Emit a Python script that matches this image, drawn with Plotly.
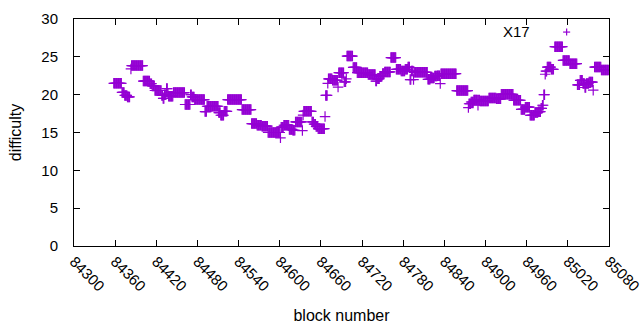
import plotly.graph_objects as go

# Runs of consecutive blocks sharing the same difficulty
run_start = [84358, 84370, 84374, 84378, 84383, 84384, 84401, 84411, 84414, 84418,
             84428, 84430, 84432, 84435, 84437, 84438, 84445, 84462, 84470, 84472,
             84476, 84491, 84494, 84511, 84514, 84519, 84524, 84545, 84559, 84567,
             84574, 84583, 84601, 84602, 84606, 84614, 84619, 84623, 84633, 84634,
             84635, 84647, 84650, 84653, 84656, 84666, 84667, 84670, 84671, 84677,
             84685, 84686, 84694, 84697, 84698, 84707, 84713, 84729, 84740, 84742,
             84746, 84750, 84753, 84762, 84770, 84777, 84783, 84787, 84790, 84792,
             84795, 84796, 84816, 84820, 84826, 84830, 84834, 84835, 84858, 84875,
             84876, 84879, 84883, 84889, 84890, 84892, 84905, 84916, 84923, 84941,
             84952, 84958, 84965, 84972, 84977, 84981, 84983, 84985, 84987, 84988,
             84990, 84996, 85001, 85013, 85023, 85034, 85038, 85042, 85045, 85047,
             85051, 85057, 85059, 85069]
run_end = [84369, 84373, 84377, 84381, 84383, 84400, 84410, 84413, 84417, 84427,
           84429, 84431, 84434, 84436, 84437, 84444, 84461, 84469, 84471, 84475,
           84490, 84493, 84510, 84513, 84518, 84523, 84544, 84558, 84566, 84573,
           84582, 84600, 84601, 84605, 84613, 84618, 84622, 84632, 84633, 84634,
           84646, 84649, 84652, 84655, 84665, 84666, 84669, 84670, 84676, 84684,
           84685, 84693, 84696, 84697, 84706, 84712, 84728, 84739, 84741, 84745,
           84749, 84752, 84761, 84769, 84776, 84782, 84786, 84789, 84791, 84794,
           84795, 84815, 84819, 84825, 84829, 84833, 84834, 84857, 84874, 84875,
           84878, 84882, 84888, 84889, 84891, 84904, 84915, 84922, 84940, 84951,
           84957, 84964, 84971, 84976, 84980, 84982, 84984, 84986, 84987, 84989,
           84995, 84999, 85012, 85022, 85033, 85037, 85041, 85044, 85046, 85050,
           85056, 85057, 85068, 85079]
run_diff = [21.5, 20.3, 19.9, 19.7, 23.4, 23.85, 21.8, 21.45, 21.15, 20.55,
            19.9, 19.5, 20.0, 20.8, 20.2, 19.8, 20.27, 18.7, 20.0, 19.7,
            19.35, 17.77, 18.47, 17.63, 17.28, 17.8, 19.35, 18.03, 16.18, 15.96,
            15.83, 15.0, 14.3, 15.7, 15.96, 15.4, 15.3, 16.4, 15.26, 17.3,
            17.8, 16.4, 16.1, 15.8, 15.5, 17.1, 19.9, 21.5, 22.1, 21.9,
            21.0, 22.9, 21.7, 22.1, 25.1, 23.6, 22.9, 22.65, 21.8, 22.1,
            22.45, 22.8, 23.0, 24.9, 23.35, 23.12, 23.35, 23.65, 22.0, 23.12,
            22.0, 22.95, 22.03, 22.2, 22.46, 22.5, 21.46, 22.78, 20.54, 18.3,
            18.8, 19.03, 19.3, 18.6, 19.3, 19.17, 19.56, 19.45, 20.05, 19.26,
            18.05, 18.35, 17.28, 17.63, 17.75, 18.2, 18.6, 20.0, 22.7, 23.1,
            23.65, 23.35, 26.34, 24.53, 24.1, 21.3, 21.9, 21.46, 20.95, 21.46,
            21.67, 20.6, 23.65, 23.25]

x_ticks = list(range(84300, 85081, 60))
y_ticks = [0, 5, 10, 15, 20, 25, 30]
series_name = "X17"

blocks, diffs = [], []
for s, e, d in zip(run_start, run_end, run_diff):
    for b in range(s, e + 1):
        blocks.append(b)
        diffs.append(d)

COLOR = "#9400D3"
FONT = "Liberation Sans, Arial, sans-serif"

fig = go.Figure()
fig.add_trace(go.Scatter(
    x=blocks, y=diffs, mode="markers", name=series_name, showlegend=False,
    marker=dict(symbol="cross-thin", size=7.5, color=COLOR,
                line=dict(color=COLOR, width=1.2)),
))

axis_common = dict(showline=True, linecolor="black", linewidth=1, mirror="ticks",
                   ticks="inside", ticklen=6, tickcolor="black", showgrid=False,
                   zeroline=False, automargin=False, ticklabeloverflow="allow",
                   tickfont=dict(family=FONT, size=15, color="black"))

fig.update_xaxes(range=[84300, 85080], tickvals=x_ticks,
                 ticktext=[str(v) for v in x_ticks], tickangle=45,
                 title=dict(text="block number", font=dict(family=FONT, size=16, color="black"),
                            standoff=16),
                 **axis_common)
fig.update_yaxes(range=[0, 30], tickvals=y_ticks, ticktext=[str(v) for v in y_ticks],
                 ticklabelstandoff=12,
                 title=dict(text="difficulty", font=dict(family=FONT, size=16, color="black"),
                            standoff=15),
                 **axis_common)

# gnuplot-style key: text then sample point, top right
fig.add_annotation(text=series_name, xref="paper", yref="paper", x=0.857, y=0.945,
                   xanchor="right", yanchor="middle", showarrow=False,
                   font=dict(family=FONT, size=15, color="black"))
kx, ky, hx, hy = 0.9208, 0.9424, 0.0066, 0.0155
fig.add_shape(type="line", xref="paper", yref="paper", x0=kx - hx, x1=kx + hx, y0=ky, y1=ky,
              line=dict(color=COLOR, width=1.2))
fig.add_shape(type="line", xref="paper", yref="paper", x0=kx, x1=kx, y0=ky - hy, y1=ky + hy,
              line=dict(color=COLOR, width=1.2))

fig.update_layout(width=640, height=330, margin=dict(l=74, r=31, t=19, b=84),
                  paper_bgcolor="white", plot_bgcolor="white",
                  font=dict(family=FONT, size=15, color="black"))

fig.write_html("out.html", config={"displayModeBar": False},
               post_script="document.body.style.margin='0';document.body.style.overflow='hidden';")
